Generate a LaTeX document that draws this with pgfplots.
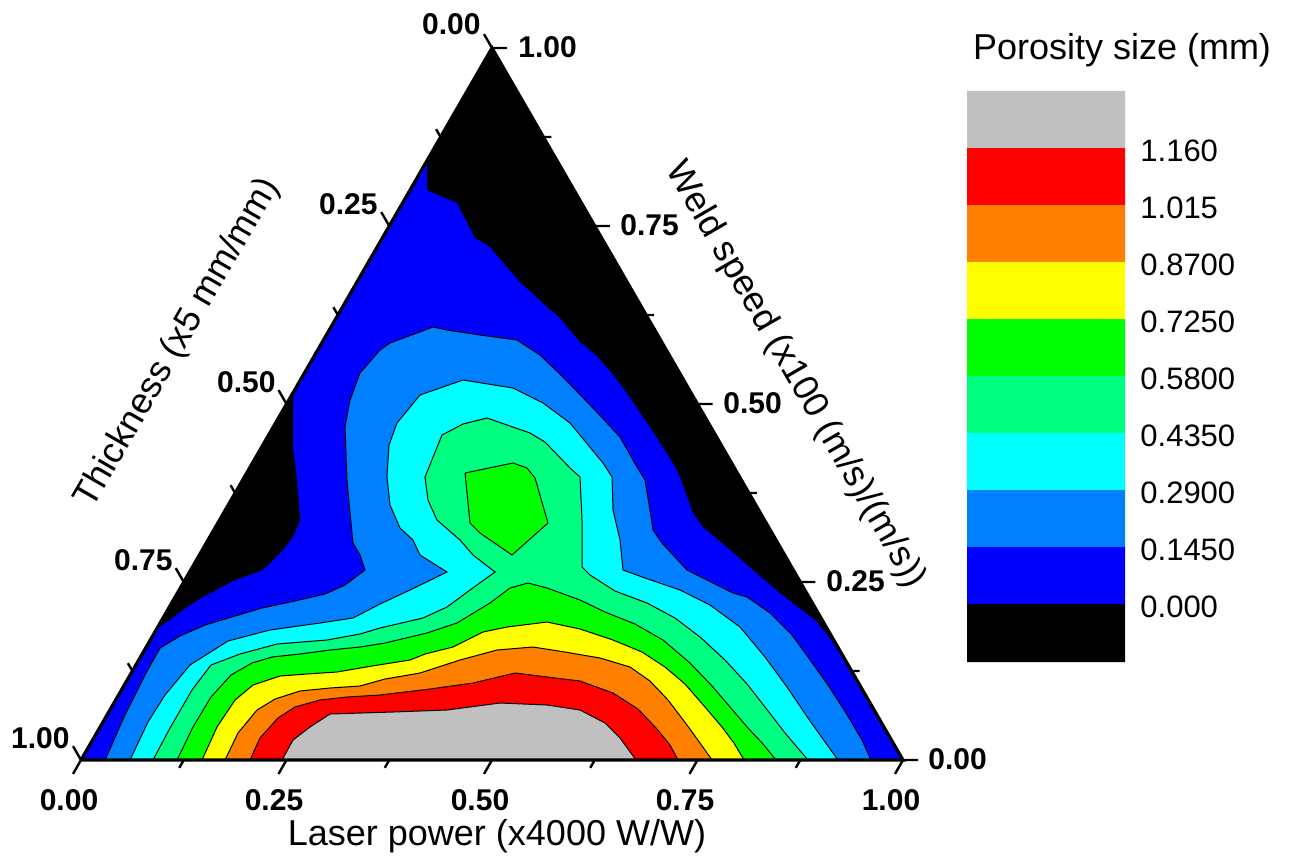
\documentclass[border=0pt]{standalone}
\usepackage{pgfplots}
\pgfplotsset{compat=1.18}
\usepackage{fontspec}
\setmainfont{Liberation Sans}
\definecolor{cgray}{RGB}{192,192,192}
\definecolor{cred}{RGB}{255,0,0}
\definecolor{corange}{RGB}{255,128,0}
\definecolor{cyellow}{RGB}{255,255,0}
\definecolor{cgreen}{RGB}{0,255,0}
\definecolor{clgreen}{RGB}{0,255,128}
\definecolor{ccyan}{RGB}{0,255,255}
\definecolor{cmblue}{RGB}{0,128,255}
\definecolor{cblue}{RGB}{0,0,255}
\begin{document}
\begin{tikzpicture}
\begin{axis}[
  scale only axis, width=645pt, height=432pt,
  xmin=0, xmax=1290, ymin=0, ymax=864, y dir=reverse,
  hide axis, clip=false,
]
% ---- level >= 0 (blue): whole triangle
\addplot[fill=cblue, draw=none, mark=none] coordinates {(81,760) (903,760) (492,48) (81,760)};
% ---- below 0 (black): top region
\addplot[fill=black, draw=none, mark=none] coordinates {
(492,48) (427,160) (427,190) (457,203) (475,238) (489,246) (520,282) (545,305) (560,318)
(570,330) (580,342) (597,356) (612,373) (627,393) (643,417) (650,427) (668,455) (677,470)
(683,485) (693,513) (703,527) (727,547) (753,570) (780,593) (797,606) (815,620) (827,634)
(845,660) (492,48)};
% ---- below 0 (black): left region
\addplot[fill=black, draw=none, mark=none] coordinates {
(293.4,392) (293,420) (293,447) (297,480) (300,520) (293,537) (283,550) (263,570) (233,581)
(203,597) (187,607) (167,622) (157,628) (293.4,392)};
% ---- >= 0.145 (medium blue)
\addplot[fill=cmblue, draw=black, line width=0.5pt, mark=none] coordinates {
(105,760) (125,715) (145,675) (160,648) (180,636) (205,625) (225,619) (262,608) (295,601)
(325,594) (345,585) (365,570) (360,555) (353,543) (350,513) (347,480) (345,427) (350,400)
(360,373) (380,350) (390,343) (433,327) (447,330) (480,335) (517,340) (540,355) (563,377)
(590,405) (607,423) (620,437) (637,467) (645,480) (650,510) (653,530) (662,543) (687,570)
(713,583) (733,593) (747,597) (770,613) (792,635) (808,657) (828,685) (846,713) (862,740)
(871,760) (105,760)};
% ---- >= 0.29 (cyan)
\addplot[fill=ccyan, draw=black, line width=0.5pt, mark=none] coordinates {
(130,760) (148,722) (165,695) (190,665) (228,641) (270,630) (320,623) (353,618) (380,604)
(410,590) (447,572) (420,555) (413,540) (400,528) (390,505) (387,477) (389,445) (397,423)
(420,395) (463,380) (513,388) (543,403) (570,423) (603,463) (612,477) (613,510) (620,540)
(623,570) (645,578) (680,590) (710,605) (740,627) (765,657) (787,687) (808,718) (825,742)
(838,760) (130,760)};
% ---- >= 0.435 (light green)
\addplot[fill=clgreen, draw=black, line width=0.5pt, mark=none] coordinates {
(153,760) (170,728) (192,690) (211,665) (240,654) (277,644) (327,640) (360,634) (380,628)
(423,618) (447,607) (470,590) (495,572) (473,555) (460,540) (437,520) (428,500) (425,477)
(442,435) (463,424) (487,418) (530,433) (545,442) (570,468) (580,477) (582,520) (582,567)
(590,575) (615,591) (647,603) (675,618) (700,637) (725,660) (747,684) (765,707) (785,733)
(808,760) (153,760)};
% ---- >= 0.58 (green): island
\addplot[fill=cgreen, draw=black, line width=0.5pt, mark=none] coordinates {
(465,473) (513,463) (527,468) (535,478) (548,523) (512,555) (480,533) (470,523) (465,473)};
% ---- >= 0.58 (green): lower band
\addplot[fill=cgreen, draw=black, line width=0.5pt, mark=none] coordinates {
(177,760) (193,727) (211,697) (231,675) (252,663) (272,657) (300,654) (330,650) (360,647)
(385,643) (427,633) (457,623) (490,603) (510,588) (528,583) (547,588) (580,600) (605,612)
(635,624) (663,640) (690,663) (712,686) (730,707) (748,728) (763,744) (776,760) (177,760)};
% ---- >= 0.725 (yellow)
\addplot[fill=cyellow, draw=black, line width=0.5pt, mark=none] coordinates {
(202,760) (217,727) (235,700) (253,685) (280,676) (307,674) (337,672) (372,666) (410,660)
(425,654) (453,647) (483,632) (507,627) (547,622) (580,629) (613,640) (642,652) (665,667)
(685,684) (705,707) (722,727) (734,743) (744,760) (202,760)};
% ---- >= 0.87 (orange)
\addplot[fill=corange, draw=black, line width=0.5pt, mark=none] coordinates {
(225,760) (238,733) (257,710) (275,699) (300,691) (330,688) (360,686) (385,679) (420,673)
(460,660) (497,650) (533,647) (565,652) (600,658) (630,667) (650,681) (668,700) (687,725)
(700,743) (712,760) (225,760)};
% ---- >= 1.015 (red)
\addplot[fill=cred, draw=black, line width=0.5pt, mark=none] coordinates {
(250,760) (260,738) (278,718) (295,707) (320,700) (347,697) (380,695) (430,689) (473,683)
(515,673) (547,677) (580,681) (613,693) (638,709) (657,729) (670,745) (678,760) (250,760)};
% ---- >= 1.16 (gray)
\addplot[fill=cgray, draw=black, line width=0.5pt, mark=none] coordinates {
(282,760) (293,740) (310,727) (330,714) (393,712) (447,710) (500,703) (547,705) (580,710)
(605,723) (620,738) (636,760) (282,760)};
% ---- triangle frame
\addplot[black, line width=1.6pt, mark=none, line join=miter] coordinates {(81,760) (903,760) (492,48) (81,760)};
% ---- major ticks
\addplot[black, line width=1.2pt, mark=none, unbounded coords=jump] coordinates {
(81,760) (73,773.9) (nan,nan) (286.5,760) (278.5,773.9) (nan,nan) (492,760) (484,773.9) (nan,nan)
(697.5,760) (689.5,773.9) (nan,nan) (903,760) (895,773.9) (nan,nan)
(492,48) (484,34.1) (nan,nan) (389.25,226) (381.25,212.1) (nan,nan) (286.5,404) (278.5,390.1) (nan,nan)
(183.75,582) (175.75,568.1) (nan,nan) (81,760) (73,746.1) (nan,nan)
(492,48) (507,48) (nan,nan) (594.75,226) (609.75,226) (nan,nan) (697.5,404) (712.5,404) (nan,nan)
(800.25,582) (815.25,582) (nan,nan) (903,760) (918,760)};
% ---- minor ticks
\addplot[black, line width=1.2pt, mark=none, unbounded coords=jump] coordinates {
(183.75,760) (179.25,767.8) (nan,nan) (389.25,760) (384.75,767.8) (nan,nan)
(594.75,760) (590.25,767.8) (nan,nan) (800.25,760) (795.75,767.8) (nan,nan)
(440.6,137) (436.1,129.2) (nan,nan) (337.9,315) (333.4,307.2) (nan,nan)
(235.1,493) (230.6,485.2) (nan,nan) (132.4,671) (127.9,663.2) (nan,nan)
(543.4,137) (551.4,137) (nan,nan) (646.1,315) (654.1,315) (nan,nan)
(748.9,493) (756.9,493) (nan,nan) (851.6,671) (859.6,671)};
% ---- colour bar
\addplot[fill=cgray, draw=none, mark=none] coordinates {(967,91) (1125,91) (1125,148) (967,148) (967,91)};
\addplot[fill=cred, draw=none, mark=none] coordinates {(967,148) (1125,148) (1125,205) (967,205) (967,148)};
\addplot[fill=corange, draw=none, mark=none] coordinates {(967,205) (1125,205) (1125,262) (967,262) (967,205)};
\addplot[fill=cyellow, draw=none, mark=none] coordinates {(967,262) (1125,262) (1125,319) (967,319) (967,262)};
\addplot[fill=cgreen, draw=none, mark=none] coordinates {(967,319) (1125,319) (1125,376) (967,376) (967,319)};
\addplot[fill=clgreen, draw=none, mark=none] coordinates {(967,376) (1125,376) (1125,433) (967,433) (967,376)};
\addplot[fill=ccyan, draw=none, mark=none] coordinates {(967,433) (1125,433) (1125,490) (967,490) (967,433)};
\addplot[fill=cmblue, draw=none, mark=none] coordinates {(967,490) (1125,490) (1125,547) (967,547) (967,490)};
\addplot[fill=cblue, draw=none, mark=none] coordinates {(967,547) (1125,547) (1125,604) (967,604) (967,547)};
\addplot[fill=black, draw=none, mark=none] coordinates {(967,604) (1125,604) (1125,662) (967,662) (967,604)};
% ---- colour bar labels
\begin{scope}[every node/.style={anchor=west, inner sep=0pt, font=\fontsize{15.5}{18}\selectfont}]
\node at (axis cs:1140,151) {1.160};
\node at (axis cs:1140,208) {1.015};
\node at (axis cs:1140,265) {0.8700};
\node at (axis cs:1140,322) {0.7250};
\node at (axis cs:1140,379) {0.5800};
\node at (axis cs:1140,436) {0.4350};
\node at (axis cs:1140,493) {0.2900};
\node at (axis cs:1140,550) {0.1450};
\node at (axis cs:1140,607) {0.000};
\end{scope}
\node[font=\fontsize{18}{21}\selectfont, inner sep=0pt] at (axis cs:1122,50) {Porosity size (mm)};
% ---- tick labels
\begin{scope}[every node/.style={inner sep=0pt, font=\fontsize{15}{18}\selectfont\bfseries}]
\node at (axis cs:69,800) {0.00};
\node at (axis cs:274,800) {0.25};
\node at (axis cs:480,800) {0.50};
\node at (axis cs:685,800) {0.75};
\node at (axis cs:891,800) {1.00};
\node[anchor=east] at (axis cs:481,24) {0.00};
\node[anchor=east] at (axis cs:378,204) {0.25};
\node[anchor=east] at (axis cs:276,382) {0.50};
\node[anchor=east] at (axis cs:173,560) {0.75};
\node[anchor=east] at (axis cs:70,738) {1.00};
\node[anchor=west] at (axis cs:518,47) {1.00};
\node[anchor=west] at (axis cs:620,225) {0.75};
\node[anchor=west] at (axis cs:723,403) {0.50};
\node[anchor=west] at (axis cs:826,581) {0.25};
\node[anchor=west] at (axis cs:928,759) {0.00};
\end{scope}
% ---- axis titles
\node[font=\fontsize{18}{21}\selectfont, inner sep=0pt] at (axis cs:497,836) {Laser power (x4000 W/W)};
\node[font=\fontsize{18}{21}\selectfont, inner sep=0pt, rotate=60] at (axis cs:178,343) {Thickness (x5 mm/mm)};
\node[font=\fontsize{18}{21}\selectfont, inner sep=0pt, rotate=-60] at (axis cs:795,375) {Weld speed (x100 (m/s)/(m/s))};
\end{axis}
\pgfresetboundingbox
\path (current axis.south west) rectangle (current axis.north east);
\end{tikzpicture}
\end{document}
